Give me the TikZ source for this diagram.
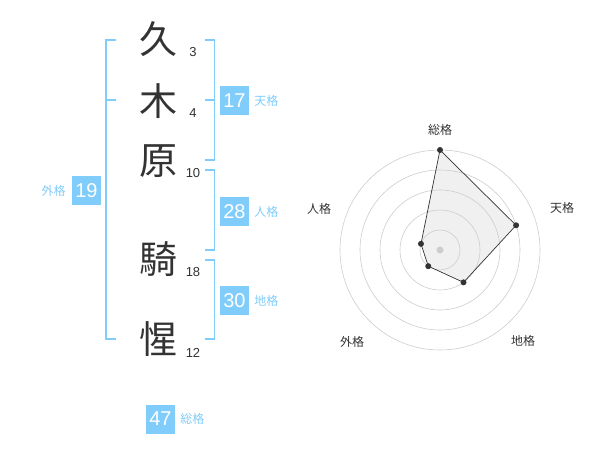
\documentclass[tikz,border=0pt]{standalone}
\usepackage{fontspec}
\setmainfont{Liberation Sans}
\newfontfamily\jpfont{Noto Sans CJK JP}
\usepackage{tikz}
\usetikzlibrary{positioning}
\definecolor{kakublue}{RGB}{128,204,250}
\definecolor{kanjigray}{RGB}{51,51,51}
\definecolor{ringgray}{RGB}{205,205,205}
\definecolor{areagray}{RGB}{240,240,240}

\begin{document}
\begin{tikzpicture} [x = 1pt, y = -1pt,
			kanji/.style = {font = \jpfont\fontsize{38}{38}\selectfont,
				text = kanjigray, inner sep = 0pt
			},
			strokes/.style = {font = \fontsize{13}{13}\selectfont,
				text = kanjigray, inner sep = 0pt
			},
			kakubox/.style = {fill = kakublue, text = white,
				minimum width = 29pt, minimum height = 29pt,
				inner sep = 0pt, font = \fontsize{20}{20}\selectfont
			},
			kakuname/.style = {font = \jpfont\fontsize{12}{12}\selectfont,
				text = kakublue, inner sep = 0pt
			},
			bracket/.style = {draw = kakublue, line width = 1.6pt},
			axisname/.style = {font = \jpfont\fontsize{12}{12}\selectfont,
				text = kanjigray, inner sep = 0pt
			},
			dot/.style = {circle, fill = kanjigray, inner sep = 0pt,
				minimum size = 6pt
			}
			]
			\useasboundingbox (0,0) rectangle (600,470);
			% Characters
			\node (k1) [kanji] at (158,39) {久};
			\node (k2) [kanji] at (158,101) {木};
			\node (k3) [kanji] at (158,161) {原};
			\node (k4) [kanji] at (158,259) {騎};
			\node (k5) [kanji] at (158,339) {惺};
			% Stroke counts
			\node (s1) [strokes] at (193,52) {3};
			\node (s2) [strokes] at (193,113) {4};
			\node (s3) [strokes] at (193,173) {10};
			\node (s4) [strokes] at (193,272) {18};
			\node (s5) [strokes] at (193,353) {12};
			% Boxes
			\node (ten) [kakubox] at (234.5,100.5) {17};
			\node (jin) [kakubox] at (234.5,212) {28};
			\node (chi) [kakubox] at (234.5,300.5) {30};
			\node (gai) [kakubox] at (86.5,190.5) {19};
			\node (sou) [kakubox] at (160.5,419) {47};
			\node (tenN) [kakuname, right = 5pt of ten] {天格};
			\node (jinN) [kakuname, right = 5pt of jin] {人格};
			\node (chiN) [kakuname, right = 5pt of chi] {地格};
			\node (gaiN) [kakuname, left = 6pt of gai] {外格};
			\node (souN) [kakuname, right = 5pt of sou] {総格};
			% Brackets
			\coordinate (bt1) at (205,40);
			\coordinate (bt2) at (205,100);
			\coordinate (bt3) at (205,160);
			\coordinate (bj1) at (205,170);
			\coordinate (bj2) at (205,250);
			\coordinate (bc1) at (205,260);
			\coordinate (bc2) at (205,339);
			\coordinate (bg1) at (116,40);
			\coordinate (bg2) at (116,100);
			\coordinate (bg3) at (116,339);
			\draw [bracket] (bt1) -| (214.3,160) -- (bt3) (bt2) -- (214.3,100);
			\draw [bracket] (bj1) -| (214.3,250) -- (bj2);
			\draw [bracket] (bc1) -| (214.3,339) -- (bc2);
			\draw [bracket] (bg1) -| (106,339) -- (bg3) (bg2) -- (106,100);
			% Radar
			\coordinate (c) at (440,250);
			\coordinate (pSou) at ([shift = {(-90:100)}] c);
			\coordinate (pTen) at ([shift = {(-18:80)}] c);
			\coordinate (pChi) at ([shift = {(54:40)}] c);
			\coordinate (pGai) at ([shift = {(126:20)}] c);
			\coordinate (pJin) at ([shift = {(198:20)}] c);
			\fill [areagray] (pSou) -- (pTen) -- (pChi) -- (pGai) -- (pJin) -- cycle;
			\foreach \r in {20,40,60,80,100}
			\draw [ringgray, line width = 0.6pt] (c) circle (\r);
			\draw [kanjigray, line width = 0.7pt] (pSou) -- (pTen) -- (pChi) -- (pGai) -- (pJin) -- cycle;
			\node (cDot) [circle, fill = ringgray, inner sep = 0pt, minimum size = 7pt] at (c) {};
			\foreach \p in {pSou,pTen,pChi,pGai,pJin}
			\node [dot] at (\p) {};
			% Axis names
			\node (aSou) [axisname] at (440,130) {総格};
			\node (aTen) [axisname] at (562,208) {天格};
			\node (aChi) [axisname] at (523,341) {地格};
			\node (aGai) [axisname] at (352,342) {外格};
			\node (aJin) [axisname] at (319,209) {人格};
		\end{tikzpicture}
\end{document}
